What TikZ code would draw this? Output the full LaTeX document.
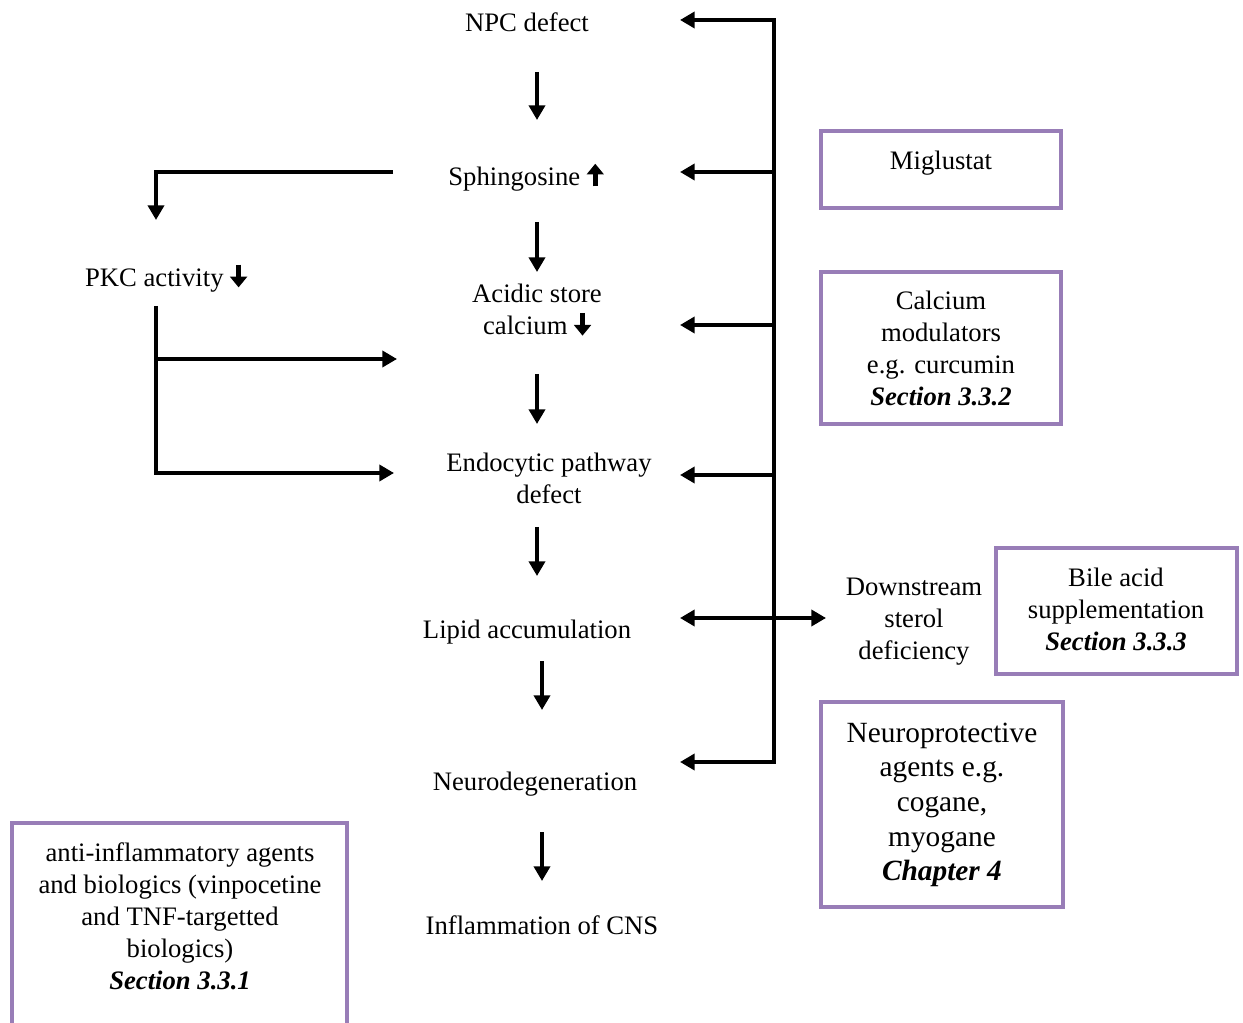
\documentclass[tikz,border=0pt]{standalone}
\usepackage{fontspec}
\setmainfont{Liberation Serif}
\usetikzlibrary{arrows.meta}
\definecolor{boxpurple}{RGB}{152,125,183}
\newcommand{\upar}{\tikz[baseline=0pt]\draw[line width=3.8pt,-{Triangle[length=8pt,width=12.5pt]}] (0,-1pt) -- (0,16pt);}
\newcommand{\dnar}{\tikz[baseline=0pt]\draw[line width=3.8pt,-{Triangle[length=8pt,width=12.5pt]}] (0,16pt) -- (0,-1pt);}
\begin{document}
\begin{tikzpicture}[x=0.75pt,y=-0.75pt,
  txt/.style={font=\fontsize{20}{24}\selectfont, align=center, inner sep=0pt},
  bigtxt/.style={font=\fontsize{22}{26}\selectfont, align=center, inner sep=0pt},
  tip/.tip={Triangle[length=11pt,width=12pt]},
  ln/.style={line width=3pt, line join=miter},
  conn/.style={ln, -tip},
  pbox/.style={draw=boxpurple, line width=3pt}]
\useasboundingbox (0,0) rectangle (1243,1023);

% main chain texts
\node[txt] (npc) at (527,22) {NPC defect};
\node[txt] (sph) at (526,176) {Sphingosine \upar};
\node[txt] (acid) at (537,311) {Acidic store\\calcium \dnar};
\node[txt] (endo) at (549,478) {Endocytic pathway\\defect};
\node[txt] (lipid) at (527,632) {Lipid accumulation};
\node[txt] (neuro) at (535,784) {Neurodegeneration};
\node[txt] (infl) at (542,925) {Inflammation of CNS};
\node[txt] (pkc) at (166,277) {PKC activity \dnar};
\node[txt] (down) at (914,622) {Downstream\\sterol\\deficiency};

% boxes
\draw[pbox] (821,131) rectangle (1061,208);
\node[txt] (mig) at (941,163) {Miglustat};
\draw[pbox] (821,272) rectangle (1061,424);
\node[txt] (calc) at (941,348) {Calcium\\modulators\\e.g. curcumin\\\textbf{\textit{Section 3.3.2}}};
\draw[pbox] (996,548) rectangle (1237,674);
\node[txt] (bile) at (1116,609) {Bile acid\\supplementation\\\textbf{\textit{Section 3.3.3}}};
\draw[pbox] (821,702) rectangle (1063,907);
\node[bigtxt] (nprot) at (942,805) {Neuroprotective\\agents e.g.\\cogane,\\myogane\\\textbf{\textit{Chapter 4}}};
\draw[pbox] (12,1030) -- (12,823) -- (347,823) -- (347,1030);
\node[txt] (anti) at (180,916) {anti-inflammatory agents\\and biologics (vinpocetine\\and TNF-targetted\\biologics)\\\textbf{\textit{Section 3.3.1}}};

% vertical chain arrows
\coordinate (a1s) at (537,72);  \coordinate (a1e) at (537,120);
\coordinate (a2s) at (537,222); \coordinate (a2e) at (537,272);
\coordinate (a3s) at (537,374); \coordinate (a3e) at (537,424);
\coordinate (a4s) at (537,527); \coordinate (a4e) at (537,576);
\coordinate (a5s) at (542,661); \coordinate (a5e) at (542,710);
\coordinate (a6s) at (542,832); \coordinate (a6e) at (542,881);
\foreach \i in {1,...,6} { \draw[conn] (a\i s) -- (a\i e); }

% right bracket
\coordinate (bT) at (774,20);  \coordinate (bB) at (774,762);
\coordinate (tT) at (680,20);  \coordinate (tB) at (680,762);
\draw[ln, tip-tip] (tT) -- (bT) -- (bB) -- (tB);
\foreach \y in {172,325,475} { \draw[conn] (774,\y) -- (680,\y); }
\coordinate (mL) at (680,618); \coordinate (mR) at (826,618);
\draw[ln, tip-tip] (mL) -- (mR);

% left PKC branch
\coordinate (s1) at (393,172); \coordinate (s2) at (156,172); \coordinate (s3) at (156,220);
\draw[conn] (s1) -- (s2) -- (s3);
\coordinate (p1) at (156,306); \coordinate (p2) at (156,473); \coordinate (p3) at (394,473);
\coordinate (q1) at (156,359); \coordinate (q2) at (397,359);
\draw[conn] (p1) -- (p2) -- (p3);
\draw[conn] (q1) -- (q2);
\end{tikzpicture}
\end{document}
